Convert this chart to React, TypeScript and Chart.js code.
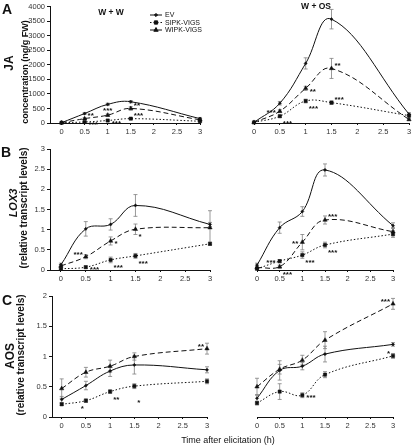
import React, { useEffect, useRef } from "react";
import { Chart, registerables } from "chart.js";
import { drawPoint } from "chart.js/helpers";

Chart.register(...registerables);

const W = 414;
const H = 446;
const Y_AXIS_W = 30;
const X_AXIS_H = 14;

// ---------- data ----------
const timePoints = [0, 0.5, 1, 1.5, 3];
const xTickValues = [0, 0.5, 1, 1.5, 2, 2.5, 3];
const seriesLabels = ["EV", "SIPK-VIGS", "WIPK-VIGS"];
const treatmentTitles = ["W + W", "W + OS"];

// Panel A: JA concentration (ng/g FW)
const jaWW_EV = [10, 325, 640, 730, 150];
const jaWW_SIPK = [10, 35, 85, 150, 60];
const jaWW_WIPK = [10, 150, 270, 500, 110];
const jaWW_EV_se = [0, 30, 40, 40, 40];
const jaWW_SIPK_se = [0, 10, 20, 30, 20];
const jaWW_WIPK_se = [0, 30, 40, 60, 40];
const jaWW_EV_sig = ["", "", "", "", ""];
const jaWW_SIPK_sig = ["", "***", "***", "***", ""];
const jaWW_WIPK_sig = ["", "**", "***", "**", ""];

const jaOS_EV = [20, 670, 2020, 3520, 300];
const jaOS_SIPK = [20, 230, 745, 690, 250];
const jaOS_WIPK = [20, 400, 1175, 1850, 120];
const jaOS_EV_se = [0, 60, 190, 330, 50];
const jaOS_SIPK_se = [0, 40, 60, 60, 40];
const jaOS_WIPK_se = [0, 50, 70, 340, 40];
const jaOS_EV_sig = ["", "", "", "", ""];
const jaOS_SIPK_sig = ["", "***", "***", "***", ""];
const jaOS_WIPK_sig = ["", "***", "**", "**", ""];

// Panel B: LOX3 relative transcript levels
const loxWW_EV = [0.13, 1.02, 1.13, 1.6, 1.13];
const loxWW_SIPK = [0.03, 0.07, 0.25, 0.35, 0.65];
const loxWW_WIPK = [0.1, 0.33, 0.72, 1.01, 1.05];
const loxWW_EV_se = [0.04, 0.18, 0.14, 0.27, 0.05];
const loxWW_SIPK_se = [0.02, 0.03, 0.07, 0.06, 0.04];
const loxWW_WIPK_se = [0.03, 0.05, 0.1, 0.13, 0.42];
const loxWW_EV_sig = ["", "", "", "", ""];
const loxWW_SIPK_sig = ["", "***", "***", "***", ""];
const loxWW_WIPK_sig = ["", "***", "*", "*", ""];

const loxOS_EV = [0.12, 1.05, 1.45, 2.48, 1.1];
const loxOS_SIPK = [0.03, 0.22, 0.37, 0.62, 0.89];
const loxOS_WIPK = [0.06, 0.08, 0.69, 1.24, 0.95];
const loxOS_EV_se = [0.05, 0.14, 0.12, 0.15, 0.07];
const loxOS_SIPK_se = [0.02, 0.04, 0.08, 0.07, 0.08];
const loxOS_WIPK_se = [0.03, 0.04, 0.19, 0.1, 0.1];
const loxOS_EV_sig = ["", "", "", "", ""];
const loxOS_SIPK_sig = ["", "***", "***", "***", ""];
const loxOS_WIPK_sig = ["", "***", "**", "***", ""];

// Panel C: AOS relative transcript levels
const aosWW_EV = [0.29, 0.52, 0.76, 0.86, 0.78];
const aosWW_SIPK = [0.21, 0.27, 0.42, 0.51, 0.59];
const aosWW_WIPK = [0.47, 0.74, 0.84, 1.0, 1.13];
const aosWW_EV_se = [0.05, 0.07, 0.09, 0.15, 0.05];
const aosWW_SIPK_se = [0.02, 0.03, 0.03, 0.04, 0.04];
const aosWW_WIPK_se = [0.16, 0.08, 0.1, 0.06, 0.09];
const aosWW_EV_sig = ["", "", "", "", ""];
const aosWW_SIPK_sig = ["", "*", "**", "*", ""];
const aosWW_WIPK_sig = ["", "", "", "", "**"];

const aosOS_EV = [0.31, 0.77, 0.84, 1.04, 1.2];
const aosOS_SIPK = [0.23, 0.42, 0.36, 0.7, 1.01];
const aosOS_WIPK = [0.5, 0.79, 0.94, 1.27, 1.87];
const aosOS_EV_se = [0.06, 0.16, 0.06, 0.13, 0.03];
const aosOS_SIPK_se = [0.03, 0.13, 0.04, 0.05, 0.04];
const aosOS_WIPK_se = [0.14, 0.08, 0.08, 0.14, 0.09];
const aosOS_EV_sig = ["", "", "", "", ""];
const aosOS_SIPK_sig = ["", "", "***", "", "*"];
const aosOS_WIPK_sig = ["", "", "", "", "***"];

// ---------- placement of significance marks (not data) ----------
const NONE = ["", "", "", "", ""];
const place = {
  jaWW: [NONE, ["", "r", "r", "tr", ""], ["", "tr", "t", "tr", ""]],
  jaOS: [NONE, ["", "br", "br", "tr", ""], ["", "l", "r", "tr", ""]],
  loxWW: [NONE, ["", "r", "br", "br", ""], ["", "tl", "r", "br", ""]],
  loxOS: [NONE, ["", "l", "br", "br", ""], ["", "br", "l", "tr", ""]],
  aosWW: [NONE, ["", "bl", "br", "bb", ""], ["", "", "", "", "tl"]],
  aosOS: [NONE, ["", "", "r", "", "tl"], ["", "", "", "", "tl"]],
};

const placeOffsets: Record<string, [number, number, CanvasTextAlign]> = {
  r: [4, 3, "left"],
  br: [3, 8, "left"],
  bb: [3, 17, "left"],
  tr: [3, -3, "left"],
  l: [-4, 2, "right"],
  bl: [-2, 8, "right"],
  tl: [-3, -2, "right"],
  t: [0, -4, "center"],
};

const seriesStyle = [
  { dash: [] as number[], pointStyle: "rectRot", radius: 1.6 },
  { dash: [1.5, 2], pointStyle: "rect", radius: 2.3 },
  { dash: [5, 3], pointStyle: "triangle", radius: 2.5 },
];

const FONT = "'Liberation Sans', Arial, sans-serif";
const INK = "#111";

// ---------- plugins ----------
const errorBarPlugin = {
  id: "errorBars",
  beforeDatasetsDraw(chart: any) {
    const ctx = chart.ctx;
    const yScale = chart.scales.y;
    ctx.save();
    ctx.strokeStyle = "#808080";
    ctx.lineWidth = 0.8;
    chart.data.datasets.forEach((ds: any, i: number) => {
      const meta = chart.getDatasetMeta(i);
      (ds.errors || []).forEach((e: number, j: number) => {
        if (!e) return;
        const v = ds.data[j].y;
        const x = meta.data[j].x;
        const yt = yScale.getPixelForValue(v + e);
        const yb = yScale.getPixelForValue(Math.max(0, v - e));
        ctx.beginPath();
        ctx.moveTo(x, yt);
        ctx.lineTo(x, yb);
        ctx.moveTo(x - 2, yt);
        ctx.lineTo(x + 2, yt);
        ctx.moveTo(x - 2, yb);
        ctx.lineTo(x + 2, yb);
        ctx.stroke();
      });
    });
    ctx.restore();
  },
};

const sigPlugin = {
  id: "sigMarks",
  afterDatasetsDraw(chart: any) {
    const ctx = chart.ctx;
    ctx.save();
    ctx.fillStyle = INK;
    ctx.font = `bold 8px ${FONT}`;
    ctx.textBaseline = "middle";
    chart.data.datasets.forEach((ds: any, i: number) => {
      const meta = chart.getDatasetMeta(i);
      (ds.sig || []).forEach((s: string, j: number) => {
        if (!s) return;
        const code = (ds.sigPlace || [])[j] || "r";
        const [dx, dy, align] = placeOffsets[code];
        ctx.textAlign = align;
        ctx.fillText(s, meta.data[j].x + dx, meta.data[j].y + dy);
      });
    });
    ctx.restore();
  },
};

const innerLegendPlugin = {
  id: "innerLegend",
  afterDraw(chart: any) {
    const opts = chart.options.plugins.innerLegend;
    if (!opts || !opts.display) return;
    const ctx = chart.ctx;
    ctx.save();
    chart.data.datasets.forEach((ds: any, i: number) => {
      const y = opts.y + i * opts.gap;
      ctx.strokeStyle = INK;
      ctx.fillStyle = INK;
      ctx.lineWidth = 1;
      ctx.setLineDash(ds.borderDash || []);
      ctx.beginPath();
      ctx.moveTo(opts.x, y);
      ctx.lineTo(opts.x + 12, y);
      ctx.stroke();
      ctx.setLineDash([]);
      drawPoint(ctx, { pointStyle: ds.pointStyle, radius: ds.pointRadius, rotation: 0, borderWidth: 0.5 }, opts.x + 6, y);
      ctx.font = `7px ${FONT}`;
      ctx.textAlign = "left";
      ctx.textBaseline = "middle";
      ctx.fillStyle = INK;
      ctx.fillText(ds.label, opts.x + 15, y + 0.5);
    });
    ctx.restore();
  },
};

// ---------- panel specs ----------
type Area = { left: number; top: number; right: number; bottom: number };
type Spec = {
  key: string;
  area: Area;
  xMin: number;
  yMax: number;
  yStep: number;
  showY: boolean;
  values: number[][];
  errors: number[][];
  sig: string[][];
  places: string[][];
  legend?: boolean;
};

const specs: Spec[] = [
  {
    key: "A1",
    area: { left: 50, top: 5, right: 200, bottom: 123 },
    xMin: -0.25, yMax: 4000, yStep: 500, showY: true, legend: true,
    values: [jaWW_EV, jaWW_SIPK, jaWW_WIPK],
    errors: [jaWW_EV_se, jaWW_SIPK_se, jaWW_WIPK_se],
    sig: [jaWW_EV_sig, jaWW_SIPK_sig, jaWW_WIPK_sig],
    places: place.jaWW,
  },
  {
    key: "A2",
    area: { left: 224, top: 5, right: 409, bottom: 123 },
    xMin: 0, yMax: 4000, yStep: 500, showY: false,
    values: [jaOS_EV, jaOS_SIPK, jaOS_WIPK],
    errors: [jaOS_EV_se, jaOS_SIPK_se, jaOS_WIPK_se],
    sig: [jaOS_EV_sig, jaOS_SIPK_sig, jaOS_WIPK_sig],
    places: place.jaOS,
  },
  {
    key: "B1",
    area: { left: 50, top: 149, right: 210, bottom: 270 },
    xMin: -0.22, yMax: 3, yStep: 0.5, showY: true,
    values: [loxWW_EV, loxWW_SIPK, loxWW_WIPK],
    errors: [loxWW_EV_se, loxWW_SIPK_se, loxWW_WIPK_se],
    sig: [loxWW_EV_sig, loxWW_SIPK_sig, loxWW_WIPK_sig],
    places: place.loxWW,
  },
  {
    key: "B2",
    area: { left: 227, top: 149, right: 393, bottom: 270 },
    xMin: 0, yMax: 3, yStep: 0.5, showY: false,
    values: [loxOS_EV, loxOS_SIPK, loxOS_WIPK],
    errors: [loxOS_EV_se, loxOS_SIPK_se, loxOS_WIPK_se],
    sig: [loxOS_EV_sig, loxOS_SIPK_sig, loxOS_WIPK_sig],
    places: place.loxOS,
  },
  {
    key: "C1",
    area: { left: 52, top: 296, right: 207, bottom: 417 },
    xMin: -0.2, yMax: 2, yStep: 0.5, showY: true,
    values: [aosWW_EV, aosWW_SIPK, aosWW_WIPK],
    errors: [aosWW_EV_se, aosWW_SIPK_se, aosWW_WIPK_se],
    sig: [aosWW_EV_sig, aosWW_SIPK_sig, aosWW_WIPK_sig],
    places: place.aosWW,
  },
  {
    key: "C2",
    area: { left: 227, top: 296, right: 393, bottom: 417 },
    xMin: 0, yMax: 2, yStep: 0.5, showY: false,
    values: [aosOS_EV, aosOS_SIPK, aosOS_WIPK],
    errors: [aosOS_EV_se, aosOS_SIPK_se, aosOS_WIPK_se],
    sig: [aosOS_EV_sig, aosOS_SIPK_sig, aosOS_WIPK_sig],
    places: place.aosOS,
  },
];

function buildConfig(spec: Spec): any {
  const datasets = spec.values.map((vals, s) => ({
    label: seriesLabels[s],
    data: timePoints.map((t, j) => ({ x: t, y: vals[j] })),
    errors: spec.errors[s],
    sig: spec.sig[s],
    sigPlace: spec.places[s],
    borderColor: INK,
    backgroundColor: INK,
    borderWidth: 1,
    borderDash: seriesStyle[s].dash,
    pointStyle: seriesStyle[s].pointStyle,
    pointRadius: seriesStyle[s].radius,
    pointBackgroundColor: INK,
    pointBorderColor: INK,
    pointBorderWidth: 0.5,
    tension: 0.4,
    fill: false,
    clip: false,
  }));
  return {
    type: "line",
    data: { datasets },
    plugins: [errorBarPlugin, sigPlugin, innerLegendPlugin],
    options: {
      animation: false,
      responsive: false,
      devicePixelRatio: 1,
      events: [],
      layout: {
        autoPadding: false,
        padding: {
          left: spec.area.left - (spec.showY ? Y_AXIS_W : 0),
          top: spec.area.top,
          right: W - spec.area.right,
          bottom: H - spec.area.bottom - X_AXIS_H,
        },
      },
      plugins: {
        legend: { display: false },
        tooltip: { enabled: false },
        title: { display: false },
        innerLegend: { display: !!spec.legend, x: 150, y: 15, gap: 7.5 },
      },
      scales: {
        x: {
          type: "linear",
          min: spec.xMin,
          max: 3,
          afterBuildTicks: (scale: any) => {
            scale.ticks = xTickValues.map((v) => ({ value: v }));
          },
          afterFit: (scale: any) => {
            scale.height = X_AXIS_H;
          },
          grid: { drawOnChartArea: false, drawTicks: true, tickLength: 2, color: INK, lineWidth: 1 },
          border: { display: true, color: INK, width: 1 },
          ticks: {
            padding: 2,
            maxRotation: 0,
            autoSkip: false,
            color: "#333",
            font: { family: FONT, size: 7.5 },
            callback: (v: number) => String(v),
          },
        },
        y: {
          type: "linear",
          display: spec.showY,
          min: 0,
          max: spec.yMax,
          afterFit: (scale: any) => {
            scale.width = Y_AXIS_W;
          },
          grid: { drawOnChartArea: false, drawTicks: true, tickLength: 3, color: INK, lineWidth: 1 },
          border: { display: true, color: INK, width: 1 },
          ticks: {
            stepSize: spec.yStep,
            padding: 2,
            color: "#333",
            font: { family: FONT, size: 7.5 },
            callback: (v: number) => String(v),
          },
        },
      },
    },
  };
}

function Panel({ spec }: { spec: Spec }) {
  const ref = useRef<HTMLCanvasElement | null>(null);
  useEffect(() => {
    if (!ref.current) return;
    const chart = new Chart(ref.current, buildConfig(spec));
    return () => chart.destroy();
  }, [spec]);
  return (
    <canvas
      ref={ref}
      width={W}
      height={H}
      style={{ position: "absolute", left: 0, top: 0, width: W, height: H }}
    />
  );
}

type LabelProps = {
  text: string;
  x: number;
  y: number;
  size: number;
  bold?: boolean;
  italic?: boolean;
  rotate?: boolean;
  family?: string;
};

function Label({ text, x, y, size, bold, italic, rotate, family }: LabelProps) {
  return (
    <div
      style={{
        position: "absolute",
        left: x,
        top: y,
        transform: `translate(-50%, -50%)${rotate ? " rotate(-90deg)" : ""}`,
        whiteSpace: "nowrap",
        fontFamily: family || FONT,
        fontSize: size,
        fontWeight: bold ? 700 : 400,
        fontStyle: italic ? "italic" : "normal",
        color: INK,
        lineHeight: 1,
      }}
    >
      {text}
    </div>
  );
}

const NARROW = "'Liberation Sans Narrow', 'Arial Narrow', " + FONT;

export default function App() {
  return (
    <div
      style={{
        position: "fixed",
        left: 0,
        top: 0,
        width: W,
        height: H,
        background: "#fff",
        overflow: "hidden",
      }}
    >
      {specs.map((s) => (
        <Panel key={s.key} spec={s} />
      ))}
      <Label text="A" x={7} y={9} size={14} bold />
      <Label text="B" x={6} y={152} size={14} bold />
      <Label text="C" x={7} y={300} size={14} bold />
      <Label text="JA" x={9} y={63} size={12} bold rotate />
      <Label text="concentration (ng/g FW)" x={25} y={72} size={9} bold rotate family={NARROW} />
      <Label text="LOX3" x={13} y={203} size={11} bold italic rotate family={NARROW} />
      <Label text="(relative transcript levels)" x={24} y={208} size={10} bold rotate family={NARROW} />
      <Label text="AOS" x={10} y={356} size={12} bold rotate family={NARROW} />
      <Label text="(relative transcript levels)" x={21} y={355} size={10} bold rotate family={NARROW} />
      <Label text={treatmentTitles[0]} x={111} y={12} size={8.5} bold family={NARROW} />
      <Label text={treatmentTitles[1]} x={316} y={6} size={8.5} bold family={NARROW} />
      <Label text="Time after elicitation (h)" x={228} y={440} size={9} />
    </div>
  );
}
